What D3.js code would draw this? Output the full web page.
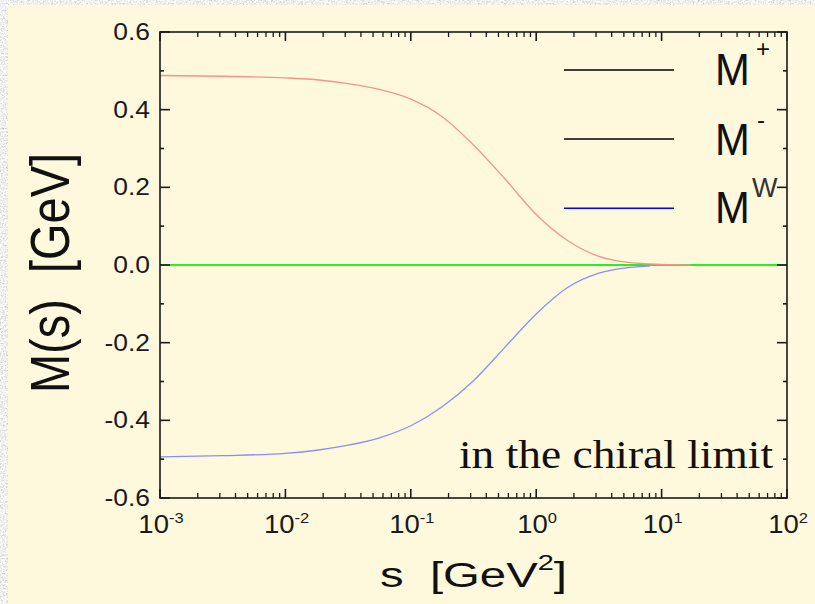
<!DOCTYPE html>
<html><head><meta charset="utf-8">
<script src="https://cdn.jsdelivr.net/npm/d3@7"></script>
<style>html,body{margin:0;padding:0;background:#dcdcdc;}svg{display:block;} text{white-space:pre;}</style>
</head><body>
<svg id="chart" width="815" height="604"></svg>
<script>
// ---- data ----
const sValues   = [0.001, 0.00316, 0.01, 0.01778, 0.03162, 0.05623, 0.1, 0.1778, 0.3162, 0.5623, 1, 1.778, 3.162, 5.623, 10, 16.98];
const mPlus     = [0.488, 0.486, 0.482, 0.477, 0.467, 0.452, 0.427, 0.382, 0.309, 0.222, 0.130, 0.063, 0.022, 0.006, 0.0015, 0.000];
const sValuesW  = [0.001, 0.00316, 0.01, 0.01778, 0.03162, 0.05623, 0.1, 0.1778, 0.3162, 0.5623, 1, 1.778, 3.162, 5.623, 8.13];
const mW        = [-0.494, -0.491, -0.485, -0.477, -0.464, -0.445, -0.414, -0.365, -0.298, -0.212, -0.126, -0.058, -0.021, -0.006, -0.002];
const zeroS     = [1e-3, 1e2];
const zeroM     = [0, 0];
const xTickExps = [-3, -2, -1, 0, 1, 2];
const yTicks    = [0.6, 0.4, 0.2, 0.0, -0.2, -0.4, -0.6];
const yTickLabels = ["0.6", "0.4", "0.2", "0.0", "-0.2", "-0.4", "-0.6"];
const yMinor    = [0.5, 0.3, 0.1, -0.1, -0.3, -0.5];
const legendNames = ["+", "-", "W"];
const legendColors = ["#000000", "#000000", "#0000ff"];

const svg = d3.select("#chart");
const defs = svg.append("defs");
const f = defs.append("filter").attr("id","tex").attr("x",0).attr("y",0).attr("width","100%").attr("height","100%");
f.append("feTurbulence").attr("type","fractalNoise").attr("baseFrequency","0.6").attr("numOctaves",3).attr("seed",4);
f.append("feColorMatrix").attr("type","matrix")
 .attr("values","0.45 0.45 0.45 0 0.2  0.45 0.45 0.45 0 0.2  0.45 0.45 0.45 0 0.2  0 0 0 0 1");

// background
svg.append("rect").attr("width",815).attr("height",604).attr("filter","url(#tex)");
svg.append("rect").attr("x",8).attr("y",5).attr("width",807).attr("height",599).attr("fill","#fef8dd");

const L=160, R=787, T=32, B=498;
const x = d3.scaleLog().domain([1e-3,1e2]).range([L,R]);
const y = d3.scaleLinear().domain([-0.6,0.6]).range([B,T]);

// curves
const line = d3.line().x(d=>x(d[0])).y(d=>y(d[1])).curve(d3.curveMonotoneX);
svg.append("path").datum(zeroS.map((s,i)=>[s,zeroM[i]])).attr("d",line)
  .attr("fill","none").attr("stroke","#27ee27").attr("stroke-width",2);
svg.append("path").datum(sValues.map((s,i)=>[s,mPlus[i]])).attr("d",line)
  .attr("fill","none").attr("stroke","#f4958b").attr("stroke-width",1.3);
svg.append("path").datum(sValuesW.map((s,i)=>[s,mW[i]])).attr("d",line)
  .attr("fill","none").attr("stroke","#8e8ef2").attr("stroke-width",1.3);

// axes frame and ticks
const ax = svg.append("g").attr("stroke","#1a1a1a").attr("stroke-width",1.6).attr("fill","none");
ax.append("rect").attr("x",L).attr("y",T).attr("width",R-L).attr("height",B-T);

const xMajor = xTickExps.map(e=>Math.pow(10,e));
const xMinorVals = [];
for (let e=-3;e<2;e++) for (let k=2;k<10;k++) xMinorVals.push(k*Math.pow(10,e));

xMajor.forEach(v=>{
  ax.append("line").attr("x1",x(v)).attr("x2",x(v)).attr("y1",B).attr("y2",B-9);
  ax.append("line").attr("x1",x(v)).attr("x2",x(v)).attr("y1",T).attr("y2",T+9);
});
xMinorVals.forEach(v=>{
  ax.append("line").attr("x1",x(v)).attr("x2",x(v)).attr("y1",B).attr("y2",B-5).attr("stroke-width",1.3);
  ax.append("line").attr("x1",x(v)).attr("x2",x(v)).attr("y1",T).attr("y2",T+5).attr("stroke-width",1.3);
});
yTicks.forEach(v=>{
  ax.append("line").attr("x1",L).attr("x2",L+10).attr("y1",y(v)).attr("y2",y(v));
  ax.append("line").attr("x1",R).attr("x2",R-10).attr("y1",y(v)).attr("y2",y(v));
});
yMinor.forEach(v=>{
  ax.append("line").attr("x1",L).attr("x2",L+4).attr("y1",y(v)).attr("y2",y(v));
  ax.append("line").attr("x1",R).attr("x2",R-4).attr("y1",y(v)).attr("y2",y(v));
});

const sans = "'Liberation Sans', Arial, sans-serif";
// y tick labels
yTicks.forEach((v,i)=>{
  svg.append("text").attr("transform",`translate(150,${y(v)+8}) scale(1.15,1)`)
    .attr("text-anchor","end").attr("font-family",sans).attr("font-size",23).attr("fill","#1a1a1a")
    .text(yTickLabels[i]);
});
// x tick labels
xTickExps.forEach(e=>{
  const g = svg.append("g").attr("transform",`translate(${x(Math.pow(10,e))},533) scale(1.1,1)`);
  const t = g.append("text").attr("font-family",sans).attr("fill","#1a1a1a");
  t.append("tspan").attr("font-size",25).text("10");
  t.append("tspan").attr("font-size",15).attr("dy",-10).text(e);
  const bb = t.node().getBBox();
  t.attr("x", -(bb.x + bb.width/2) + 1);
});

// axis titles
const xg = svg.append("g");
const xt = xg.append("text").attr("font-family",sans).attr("font-size",36).attr("fill","#111");
xt.append("tspan").text("s  [GeV");
xt.append("tspan").attr("font-size",22).attr("dy",-17).text("2");
xt.append("tspan").attr("dy",17).text("]");
const xbb = xt.node().getBBox();
const xs = 187 / xbb.width;
xg.attr("transform",`translate(${380 - xbb.x*xs},587) scale(${xs},1)`);

svg.append("text").attr("transform","translate(69,273) rotate(-90)").attr("text-anchor","middle")
  .attr("font-family",sans).attr("font-size",56).attr("fill","#111")
  .attr("textLength",240).attr("lengthAdjust","spacingAndGlyphs")
  .text("M(s)  [GeV]");

// annotation
svg.append("text").attr("x",459).attr("y",468).attr("font-family","'Liberation Serif', 'Times New Roman', serif")
  .attr("font-size",40).attr("fill","#111").attr("textLength",314).attr("lengthAdjust","spacingAndGlyphs")
  .text("in the chiral limit");

// legend
const legY = [70, 139, 208.3];
const legBase = [85, 155, 223.3];
legendNames.forEach((n,i)=>{
  svg.append("line").attr("x1",564).attr("x2",674).attr("y1",legY[i]).attr("y2",legY[i])
    .attr("stroke",legendColors[i]).attr("stroke-width",1.4);
  svg.append("text").attr("transform",`translate(715,${legBase[i]}) scale(0.95,1)`)
    .attr("font-family",sans).attr("font-size",44).attr("fill","#111").text("M");
});
svg.append("text").attr("x",756).attr("y",57).attr("font-family",sans).attr("font-size",24).attr("fill","#111").text(legendNames[0]);
svg.append("text").attr("x",757).attr("y",128).attr("font-family",sans).attr("font-size",24).attr("fill","#111").text(legendNames[1]);
svg.append("text").attr("x",752).attr("y",197).attr("font-family",sans).attr("font-size",27).attr("fill","#333").text(legendNames[2]);
</script>
</body></html>
